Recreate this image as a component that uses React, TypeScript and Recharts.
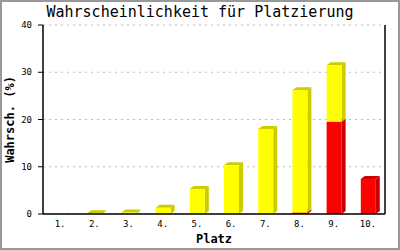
// Wahrscheinlichkeit für Platzierung – gestapelte 3D-Balken (Recharts)
import React from 'react';
import { BarChart, Bar, XAxis, YAxis, CartesianGrid, Label } from 'recharts';

const places = ['1.', '2.', '3.', '4.', '5.', '6.', '7.', '8.', '9.', '10.'];
const yellowValues = [0, 0.15, 0.3, 1.3, 5.3, 10.3, 18.0, 25.9, 12.0, 0];
const redValues = [0, 0, 0, 0, 0, 0, 0, 0.3, 19.5, 7.4];
const yTicks = [0, 10, 20, 30, 40];

const data = places.map((p, i) => ({ place: p, red: redValues[i], yellow: yellowValues[i] }));

const MONO = '"DejaVu Sans Mono", "Liberation Mono", monospace';
const DX = 4;
const DY = 3;

// Balken mit Seiten- und Deckfläche
function Bar3D(props: any) {
  const { x, y, width, height, fill, side } = props;
  if (!height || height <= 0) return <g />;
  const r = x + width;
  const b = y + height;
  return (
    <g>
      <polygon
        points={`${x},${y} ${x + DX},${y - DY} ${r + DX},${y - DY} ${r},${y}`}
        fill={side}
      />
      <polygon
        points={`${r},${b} ${r},${y} ${r + DX},${y - DY} ${r + DX},${b - DY}`}
        fill={side}
      />
      <rect x={x} y={y} width={width} height={height} fill={fill} />
    </g>
  );
}

export default function App() {
  return (
    <div style={{ position: 'absolute', left: 0, top: 0, width: 400, height: 250, background: '#fff' }}>
      <BarChart
        width={400}
        height={250}
        data={data}
        margin={{ top: 25, right: 0, bottom: 0, left: 0 }}
      >
        <CartesianGrid vertical={false} stroke="#bbbbbb" strokeDasharray="2 4" />
        <XAxis
          dataKey="place"
          height={36}
          axisLine={{ stroke: '#000', strokeWidth: 1.5 }}
          tickLine={false}
          tickSize={5}
          tickMargin={2}
          tick={{ fontSize: 9, fill: '#000', fontFamily: MONO }}
          interval={0}
        >
          <Label
            value="Platz"
            position="insideBottom"
            offset={7}
            style={{ fontSize: 12, fontWeight: 'bold', fill: '#000', fontFamily: MONO }}
          />
        </XAxis>
        <YAxis
          width={43}
          domain={[0, 40]}
          ticks={yTicks}
          axisLine={{ stroke: '#000', strokeWidth: 1.5 }}
          tickLine={{ stroke: '#000' }}
          tickSize={5}
          tickMargin={6}
          tick={{ fontSize: 9, fill: '#000', fontFamily: MONO }}
        >
          <Label
            value="Wahrsch. (%)"
            angle={-90}
            position="insideLeft"
            offset={10}
            style={{ textAnchor: 'middle', fontSize: 12, fontWeight: 'bold', fill: '#000', fontFamily: MONO }}
          />
        </YAxis>
        <YAxis
          yAxisId="right"
          orientation="right"
          width={15}
          domain={[0, 40]}
          tick={false}
          tickLine={false}
          axisLine={{ stroke: '#000', strokeWidth: 1.5 }}
        />
        <Bar
          dataKey="red"
          stackId="a"
          fill="#ff0000"
          barSize={15}
          isAnimationActive={false}
          shape={(p: any) => <Bar3D {...p} fill="#ff0000" side="#cc0000" />}
        />
        <Bar
          dataKey="yellow"
          stackId="a"
          fill="#ffff00"
          barSize={15}
          isAnimationActive={false}
          shape={(p: any) => <Bar3D {...p} fill="#ffff00" side="#cccc00" />}
        />
      </BarChart>
      <div
        style={{
          position: 'absolute',
          left: 0,
          top: 3,
          width: 400,
          textAlign: 'center',
          fontFamily: MONO,
          fontSize: 15,
          lineHeight: '18px',
          color: '#000',
        }}
      >
        Wahrscheinlichkeit für Platzierung
      </div>
      <div
        style={{
          position: 'absolute',
          inset: 0,
          border: '2px solid #999999',
          boxSizing: 'border-box',
          pointerEvents: 'none',
        }}
      />
    </div>
  );
}
